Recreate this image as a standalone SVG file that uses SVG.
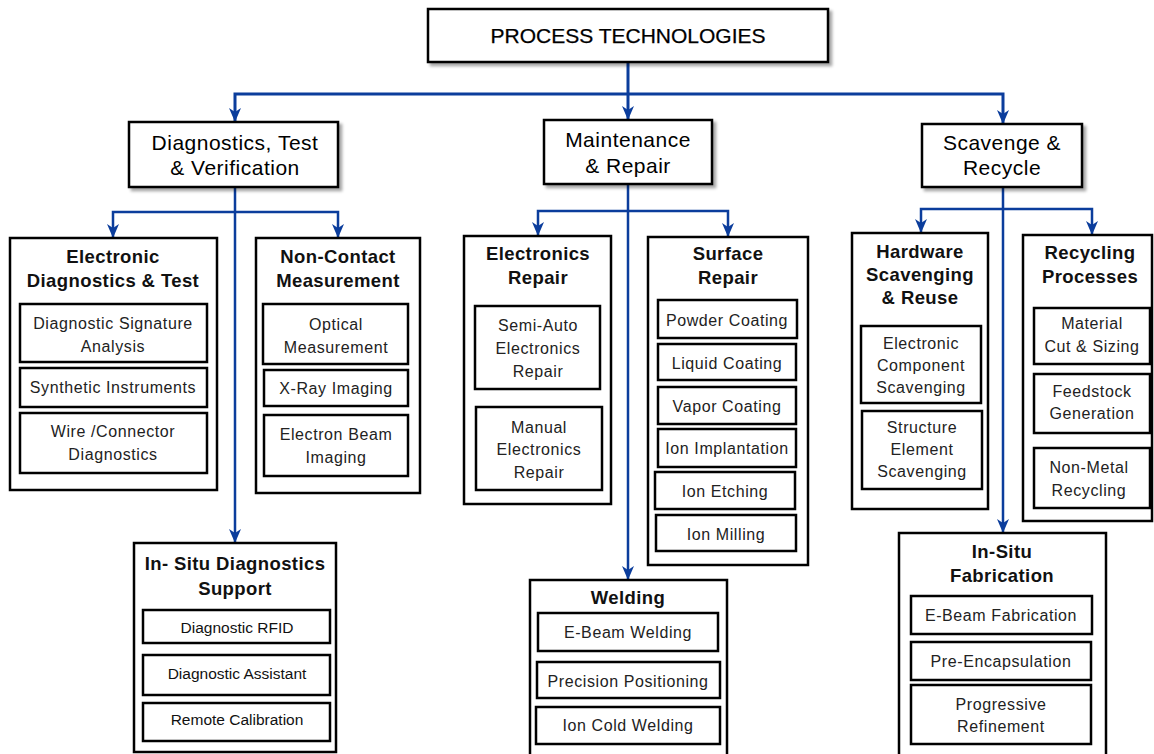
<svg xmlns="http://www.w3.org/2000/svg" width="1154" height="754" viewBox="0 0 1154 754">
<defs>
<filter id="sh" x="-10%" y="-10%" width="130%" height="140%">
<feDropShadow dx="3" dy="3" stdDeviation="1.5" flood-color="#000" flood-opacity="0.35"/>
</filter>
<marker id="arr" viewBox="0 0 14 12" refX="14" refY="6" markerWidth="14" markerHeight="12" markerUnits="userSpaceOnUse" orient="auto">
<path d="M0,0 L14,6 L0,12 L4,6 z" fill="#0b3d9c"/>
</marker>
</defs>
<style>
.b0{fill:#fff;stroke:#000;stroke-width:2.5;filter:url(#sh)}
.b2{fill:#fff;stroke:#000;stroke-width:2.5}
.b3{fill:#fff;stroke:#000;stroke-width:2.5}
.t0{font-family:"Liberation Sans",Arial,sans-serif;font-size:21px;fill:#000;text-anchor:middle;stroke:#000;stroke-width:0.25}
.t1{font-family:"Liberation Sans",Arial,sans-serif;font-size:21px;fill:#000;text-anchor:middle;letter-spacing:0.5px}
.t2{font-family:"Liberation Sans",Arial,sans-serif;font-size:18.5px;font-weight:bold;fill:#111;text-anchor:middle;letter-spacing:0.4px}
.t3{font-family:"Liberation Sans",Arial,sans-serif;font-size:16px;fill:#222;text-anchor:middle;letter-spacing:0.6px}
.t4{font-family:"Liberation Sans",Arial,sans-serif;font-size:15.5px;fill:#111;text-anchor:middle}
.c{fill:none;stroke:#0b3d9c;stroke-width:3;marker-end:url(#arr)}
.c2{fill:none;stroke:#0b3d9c;stroke-width:2.5;marker-end:url(#arr)}
</style>
<rect width="1154" height="754" fill="#fff"/>

<g id="connectors">
<path class="c" d="M628,62 V120"/>
<path class="c" d="M628,94 H235 V122"/>
<path class="c" d="M628,94 H1003 V124"/>
<path class="c2" d="M235,187 V543"/>
<path class="c2" d="M235,212 H113 V238"/>
<path class="c2" d="M235,212 H338 V238"/>
<path class="c2" d="M628,184 V580"/>
<path class="c2" d="M628,211 H538 V236"/>
<path class="c2" d="M628,211 H728 V237"/>
<path class="c2" d="M1003,187 V533"/>
<path class="c2" d="M1003,209 H921 V233"/>
<path class="c2" d="M1003,209 H1092 V235"/>
</g>

<g id="process-technologies">
<rect class="b0" x="428" y="9" width="400" height="53"/>
<text class="t0" x="628" y="43">PROCESS TECHNOLOGIES</text>
</g>

<g id="diagnostics-test-verification">
<rect class="b0" x="129" y="122" width="209" height="65"/>
<text class="t1" x="235" y="150">Diagnostics, Test</text>
<text class="t1" x="235" y="175">&amp; Verification</text>
</g>

<g id="maintenance-repair">
<rect class="b0" x="544" y="120" width="168" height="64"/>
<text class="t1" x="628" y="147">Maintenance</text>
<text class="t1" x="628" y="173">&amp; Repair</text>
</g>

<g id="scavenge-recycle">
<rect class="b0" x="922" y="124" width="160" height="63"/>
<text class="t1" x="1002" y="150">Scavenge &amp;</text>
<text class="t1" x="1002" y="175">Recycle</text>
</g>

<g id="electronic-diagnostics-test">
<rect class="b2" x="10" y="238" width="207" height="252"/>
<text class="t2" x="113" y="263">Electronic</text>
<text class="t2" x="113" y="287">Diagnostics &amp; Test</text>
<rect class="b3" x="20" y="304" width="187" height="58"/>
<text class="t3" x="113" y="329">Diagnostic Signature</text>
<text class="t3" x="113" y="352">Analysis</text>
<rect class="b3" x="20" y="368" width="187" height="39"/>
<text class="t3" x="113" y="393">Synthetic Instruments</text>
<rect class="b3" x="20" y="413" width="187" height="60"/>
<text class="t3" x="113" y="437">Wire /Connector</text>
<text class="t3" x="113" y="460">Diagnostics</text>
</g>

<g id="non-contact-measurement">
<rect class="b2" x="256" y="238" width="164" height="255"/>
<text class="t2" x="338" y="263">Non-Contact</text>
<text class="t2" x="338" y="287">Measurement</text>
<rect class="b3" x="263" y="304" width="145" height="60"/>
<text class="t3" x="336" y="330">Optical</text>
<text class="t3" x="336" y="353">Measurement</text>
<rect class="b3" x="264" y="370" width="144" height="36"/>
<text class="t3" x="336" y="394">X-Ray Imaging</text>
<rect class="b3" x="264" y="415" width="144" height="61"/>
<text class="t3" x="336" y="440">Electron Beam</text>
<text class="t3" x="336" y="463">Imaging</text>
</g>

<g id="in-situ-diagnostics-support">
<rect class="b2" x="134" y="543" width="202" height="209"/>
<text class="t2" x="235" y="570">In- Situ Diagnostics</text>
<text class="t2" x="235" y="595">Support</text>
<rect class="b3" x="143" y="610" width="187" height="33"/>
<text class="t4" x="237" y="633">Diagnostic  RFID</text>
<rect class="b3" x="143" y="655" width="187" height="40"/>
<text class="t4" x="237" y="679">Diagnostic Assistant</text>
<rect class="b3" x="143" y="703" width="187" height="38"/>
<text class="t4" x="237" y="725">Remote Calibration</text>
</g>

<g id="electronics-repair">
<rect class="b2" x="464" y="236" width="147" height="268"/>
<text class="t2" x="538" y="260">Electronics</text>
<text class="t2" x="538" y="284">Repair</text>
<rect class="b3" x="475" y="306" width="125" height="83"/>
<text class="t3" x="538" y="331">Semi-Auto</text>
<text class="t3" x="538" y="354">Electronics</text>
<text class="t3" x="538" y="377">Repair</text>
<rect class="b3" x="476" y="407" width="126" height="83"/>
<text class="t3" x="539" y="433">Manual</text>
<text class="t3" x="539" y="455">Electronics</text>
<text class="t3" x="539" y="478">Repair</text>
</g>

<g id="surface-repair">
<rect class="b2" x="648" y="237" width="160" height="328"/>
<text class="t2" x="728" y="260">Surface</text>
<text class="t2" x="728" y="284">Repair</text>
<rect class="b3" x="658" y="300" width="139" height="38"/>
<text class="t3" x="727" y="326">Powder Coating</text>
<rect class="b3" x="658" y="344" width="138" height="36"/>
<text class="t3" x="727" y="369">Liquid Coating</text>
<rect class="b3" x="658" y="387" width="138" height="37"/>
<text class="t3" x="727" y="412">Vapor Coating</text>
<rect class="b3" x="658" y="429" width="138" height="38"/>
<text class="t3" x="727" y="454">Ion Implantation</text>
<rect class="b3" x="655" y="472" width="140" height="37"/>
<text class="t3" x="725" y="497">Ion Etching</text>
<rect class="b3" x="656" y="515" width="140" height="36"/>
<text class="t3" x="726" y="540">Ion Milling</text>
</g>

<g id="welding">
<rect class="b2" x="530" y="580" width="197" height="180"/>
<text class="t2" x="628" y="604">Welding</text>
<rect class="b3" x="538" y="613" width="180" height="38"/>
<text class="t3" x="628" y="638">E-Beam Welding</text>
<rect class="b3" x="537" y="662" width="183" height="36"/>
<text class="t3" x="628" y="687">Precision Positioning</text>
<rect class="b3" x="536" y="707" width="184" height="37"/>
<text class="t3" x="628" y="731">Ion Cold Welding</text>
</g>

<g id="hardware-scavenging-reuse">
<rect class="b2" x="852" y="233" width="136" height="276"/>
<text class="t2" x="920" y="258">Hardware</text>
<text class="t2" x="920" y="281">Scavenging</text>
<text class="t2" x="920" y="304">&amp; Reuse</text>
<rect class="b3" x="861" y="326" width="120" height="77"/>
<text class="t3" x="921" y="349">Electronic</text>
<text class="t3" x="921" y="371">Component</text>
<text class="t3" x="921" y="393">Scavenging</text>
<rect class="b3" x="862" y="411" width="120" height="78"/>
<text class="t3" x="922" y="433">Structure</text>
<text class="t3" x="922" y="455">Element</text>
<text class="t3" x="922" y="477">Scavenging</text>
</g>

<g id="recycling-processes">
<rect class="b2" x="1023" y="235" width="129" height="286"/>
<text class="t2" x="1090" y="259">Recycling</text>
<text class="t2" x="1090" y="283">Processes</text>
<rect class="b3" x="1034" y="308" width="116" height="56"/>
<text class="t3" x="1092" y="329">Material</text>
<text class="t3" x="1092" y="352">Cut &amp; Sizing</text>
<rect class="b3" x="1034" y="374" width="116" height="59"/>
<text class="t3" x="1092" y="397">Feedstock</text>
<text class="t3" x="1092" y="419">Generation</text>
<rect class="b3" x="1034" y="448" width="116" height="60"/>
<text class="t3" x="1089" y="473">Non-Metal</text>
<text class="t3" x="1089" y="496">Recycling</text>
</g>

<g id="in-situ-fabrication">
<rect class="b2" x="899" y="533" width="207" height="230"/>
<text class="t2" x="1002" y="558">In-Situ</text>
<text class="t2" x="1002" y="582">Fabrication</text>
<rect class="b3" x="911" y="596" width="181" height="38"/>
<text class="t3" x="1001" y="621">E-Beam Fabrication</text>
<rect class="b3" x="911" y="642" width="180" height="38"/>
<text class="t3" x="1001" y="667">Pre-Encapsulation</text>
<rect class="b3" x="911" y="685" width="180" height="59"/>
<text class="t3" x="1001" y="710">Progressive</text>
<text class="t3" x="1001" y="732">Refinement</text>
</g>
</svg>
